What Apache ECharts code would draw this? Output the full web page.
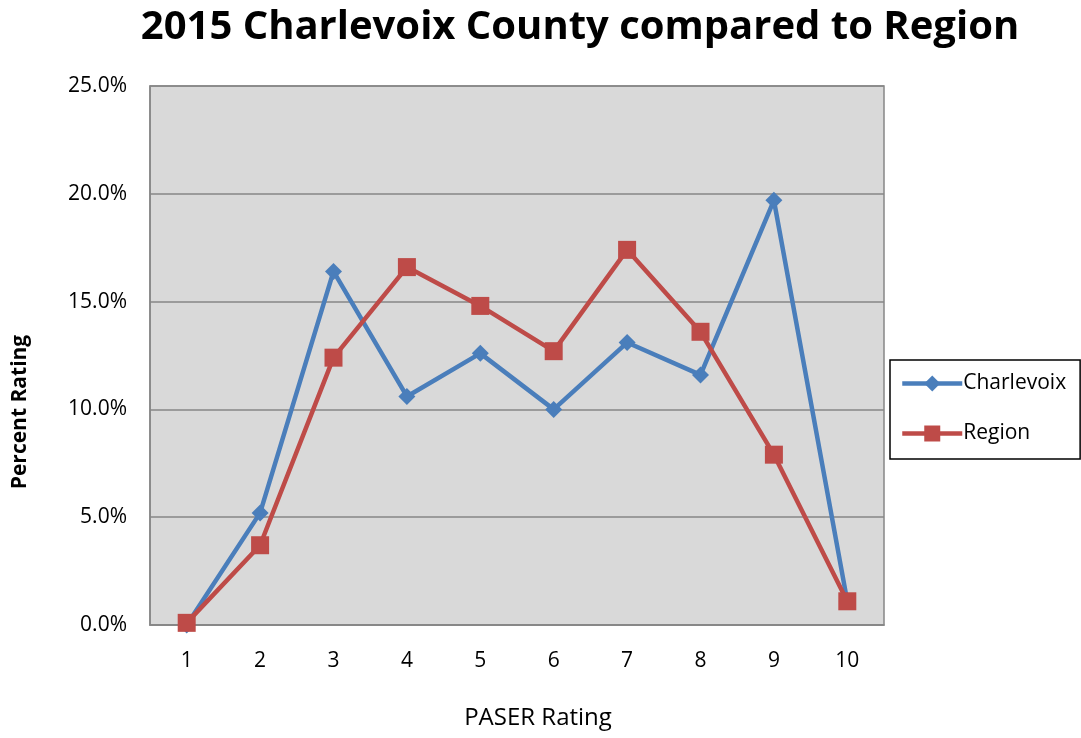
<!DOCTYPE html>
<html>
<head>
<meta charset="utf-8">
<script src="https://cdn.jsdelivr.net/npm/echarts@6/dist/echarts.min.js"></script>
<style>
  html, body { margin: 0; padding: 0; background: #fff; }
  #chart { width: 1081px; height: 738px; }
</style>
</head>
<body>
<div id="chart"></div>
<script>
const ratings = ['1', '2', '3', '4', '5', '6', '7', '8', '9', '10']
const charlevoix = [0.0, 5.2, 16.4, 10.6, 12.6, 10.0, 13.1, 11.6, 19.7, 1.1]
const region = [0.1, 3.7, 12.4, 16.6, 14.8, 12.7, 17.4, 13.6, 7.9, 1.1]

const font = "'Open Sans', 'Liberation Sans', sans-serif"
const chart = echarts.init(document.getElementById('chart'), null, { renderer: 'canvas' })

chart.setOption({
  animation: false,
  textStyle: { fontFamily: font, color: '#000' },
  title: {
    text: '2015 Charlevoix County compared to Region',
    left: 575, top: 3, textAlign: 'center',
    textStyle: { fontSize: 40, fontWeight: 'bold', color: '#000', fontFamily: font },
  },
  legend: {
    orient: 'vertical',
    left: 890, top: 360,
    width: 185,
    padding: [13, 14, 15, 10],
    itemGap: 29,
    itemWidth: 60, itemHeight: 20,
    borderColor: '#000', borderWidth: 1.5,
    lineStyle: { width: 4.5 },
    textStyle: { fontSize: 21, color: '#000', fontFamily: font, padding: [0, 0, 0, -4] },
    data: ['Charlevoix', 'Region'],
  },
  graphic: [
    {
      type: 'text', x: 538, y: 718,
      style: { text: 'PASER Rating', fill: '#000', font: '24px ' + font, textAlign: 'center', textVerticalAlign: 'middle' },
    },
    {
      type: 'text', x: 20, y: 412, rotation: Math.PI / 2,
      style: { text: 'Percent Rating', fill: '#000', font: 'bold 21px ' + font, textAlign: 'center', textVerticalAlign: 'middle' },
    },
  ],
  grid: {
    left: 150, right: 197, top: 86, bottom: 113,
    outerBoundsMode: 'none',
    show: true, backgroundColor: '#d9d9d9', borderColor: '#868686', borderWidth: 1.5,
  },
  xAxis: {
    type: 'category',
    data: ratings,
    boundaryGap: true,
    axisLine: { lineStyle: { color: '#868686', width: 1.5 } },
    axisTick: { show: false },
    axisLabel: { fontSize: 21, color: '#000', margin: 26 },
  },
  yAxis: {
    type: 'value',
    min: 0, max: 25, interval: 5,
    axisLine: { show: true, lineStyle: { color: '#868686', width: 1.5 } },
    axisTick: { show: false },
    axisLabel: { fontSize: 21, color: '#000', margin: 23, formatter: v => v.toFixed(1) + '%' },
    splitLine: { lineStyle: { color: '#868686', width: 1.5 } },
  },
  series: [
    {
      name: 'Charlevoix', type: 'line', data: charlevoix,
      symbol: 'diamond', symbolSize: 17,
      lineStyle: { color: '#4a7ebb', width: 4.5 },
      itemStyle: { color: '#4a7ebb' },
      z: 2,
    },
    {
      name: 'Region', type: 'line', data: region,
      symbol: 'rect', symbolSize: 18,
      lineStyle: { color: '#be4b48', width: 4.5 },
      itemStyle: { color: '#be4b48' },
      z: 3,
    },
  ],
})
</script>
</body>
</html>
